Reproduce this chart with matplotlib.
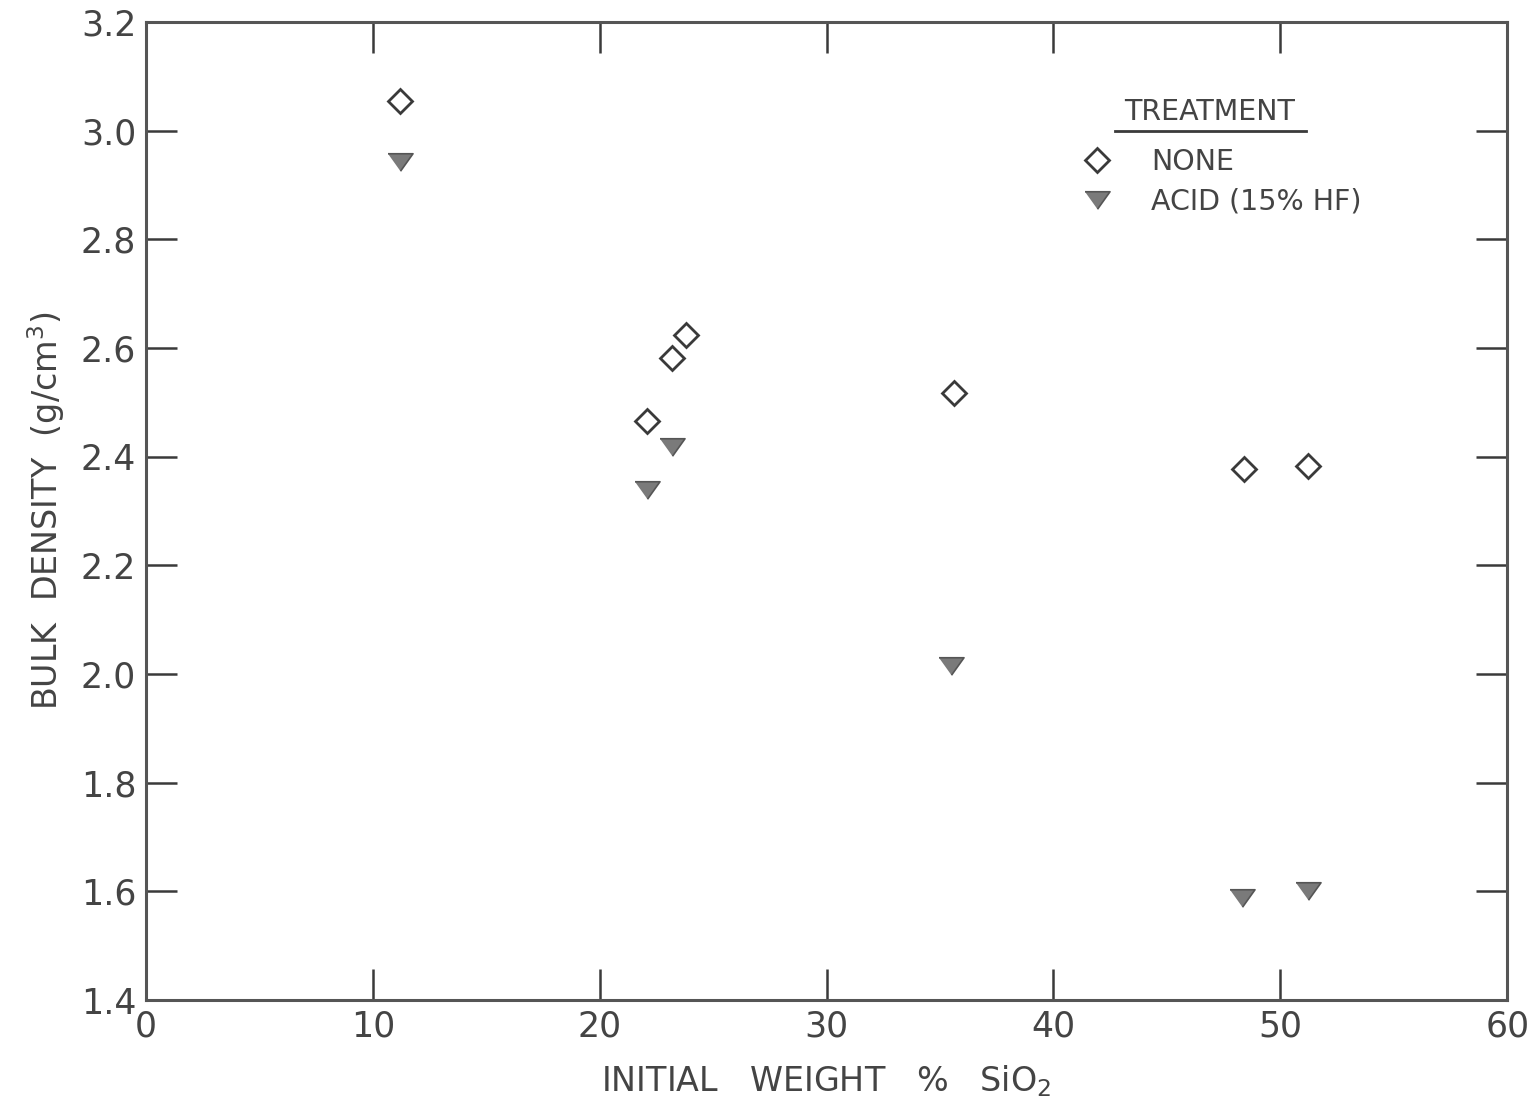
import matplotlib
matplotlib.use("Agg")
import matplotlib.pyplot as plt
from matplotlib.lines import Line2D

# Data
none_x = [11.2, 22.1, 23.2, 23.8, 35.6, 48.4, 51.2]
none_y = [3.055, 2.466, 2.582, 2.624, 2.517, 2.378, 2.383]
acid_x = [11.2, 22.1, 23.2, 35.5, 48.3, 51.2]
acid_y = [2.943, 2.339, 2.418, 2.015, 1.587, 1.600]

xticks = [0, 10, 20, 30, 40, 50, 60]
yticks = [1.4, 1.6, 1.8, 2.0, 2.2, 2.4, 2.6, 2.8, 3.0, 3.2]
ytick_labels = ["1.4", "1.6", "1.8", "2.0", "2.2", "2.4", "2.6", "2.8", "3.0", "3.2"]

ink = "#3a3a3a"
plt.rcParams['font.family'] = ['DejaVu Sans']

fig = plt.figure(figsize=(15.38, 11.04), dpi=100)
ax = fig.add_axes([0.0949, 0.0942, 0.980 - 0.0949, 0.980 - 0.0942])

tri = [(-1, 0.7), (1, 0.7), (0, -0.7)]
ax.plot(none_x, none_y, linestyle='none', marker='D', ms=12.5, mfc='white',
        mec=ink, mew=2.0, label='NONE')
ax.plot(acid_x, acid_y, linestyle='none', marker=tri, ms=18, mfc='#7a7a7a',
        mec='#555555', mew=1.2, label='ACID (15% HF)')

ax.set_xlim(0, 60)
ax.set_ylim(1.4, 3.2)
ax.set_xticks(xticks)
ax.set_xticklabels([str(t) for t in xticks])
ax.set_yticks(yticks)
ax.set_yticklabels(ytick_labels)

for s in ax.spines.values():
    s.set_linewidth(2.2)
    s.set_color('#555555')

ax.tick_params(axis='both', which='major', direction='in', length=22, width=1.8,
               color=ink, labelsize=25, labelcolor='#444444', pad=7,
               top=True, right=True)

ax.set_xlabel("INITIAL   WEIGHT   %   SiO$_2$", fontsize=24, color='#444444', labelpad=14)
ax.set_ylabel("BULK  DENSITY  (g/cm$^3$)", fontsize=24, color='#444444', labelpad=10)

# Legend
leg = ax.legend(loc='upper left', bbox_to_anchor=(0.659, 0.897), frameon=False,
                fontsize=20.5, handletextpad=0.9, labelspacing=0.4, labelcolor='#444444')
ax.text(0.781, 0.908, "TREATMENT", transform=ax.transAxes, fontsize=20.5,
        color='#444444', ha='center', va='center')
ax.add_line(Line2D([0.712, 0.852], [0.889, 0.889], transform=ax.transAxes,
                   color=ink, lw=2))

fig.savefig("out.png", dpi=100)
